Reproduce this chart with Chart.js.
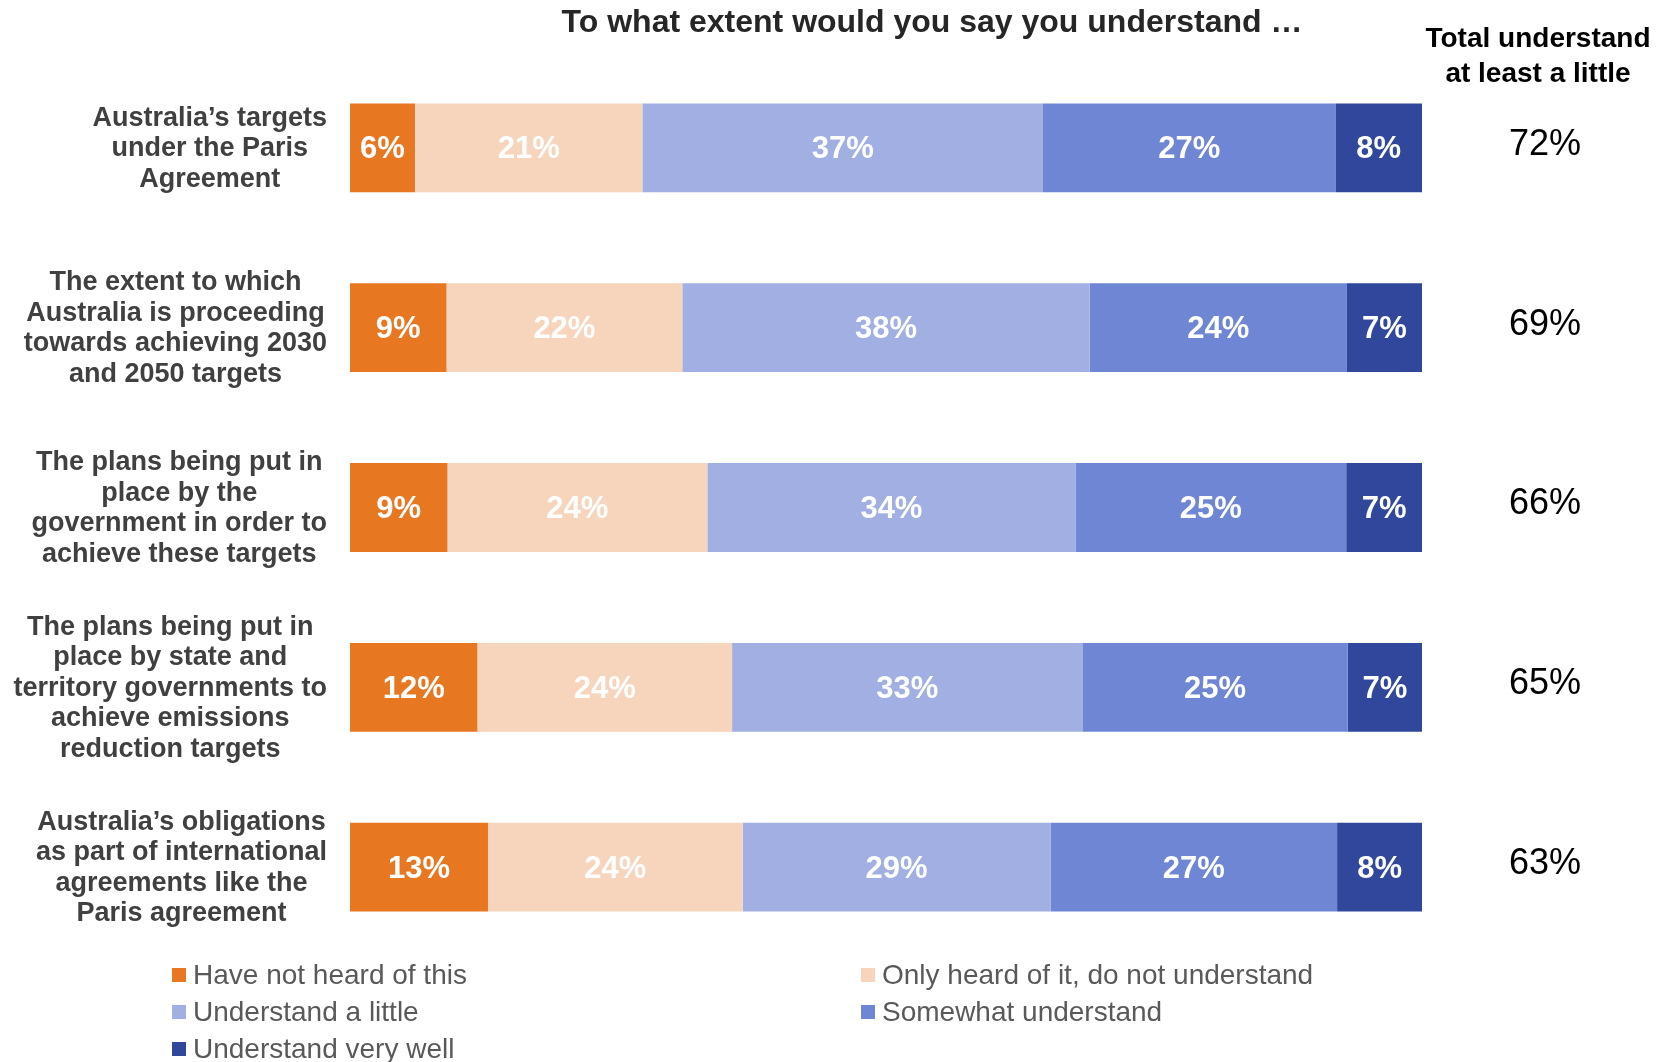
<!DOCTYPE html>
<html>
<head>
<meta charset="utf-8">
<script src="https://cdn.jsdelivr.net/npm/chart.js@4"></script>
<style>
  html, body { margin: 0; padding: 0; background: #fff; }
  #wrap { width: 1657px; height: 1062px; position: relative; }
</style>
</head>
<body>
<div id="wrap"><canvas id="understandChart"></canvas></div>
<script>
const questions = [
    ['Australia\u2019s targets', 'under the Paris', 'Agreement'],
    ['The extent to which', 'Australia is proceeding', 'towards achieving 2030', 'and 2050 targets'],
    ['The plans being put in', 'place by the', 'government in order to', 'achieve these targets'],
    ['The plans being put in', 'place by state and', 'territory governments to', 'achieve emissions', 'reduction targets'],
    ['Australia\u2019s obligations', 'as part of international', 'agreements like the', 'Paris agreement']
];
const responseLabels = [
    'Have not heard of this',
    'Only heard of it, do not understand',
    'Understand a little',
    'Somewhat understand',
    'Understand very well'
];
const haveNotHeard = [6, 9, 9, 12, 13];
const onlyHeard = [21, 22, 24, 24, 24];
const understandLittle = [37, 38, 34, 33, 29];
const somewhatUnderstand = [27, 24, 25, 25, 27];
const understandVeryWell = [8, 7, 7, 7, 8];
const totalAtLeastLittle = [72, 69, 66, 65, 63];
const seriesColors = ['#E87722', '#F6D5BC', '#A1AFE2', '#6F86D4', '#31479C'];

const titleText = 'To what extent would you say you understand \u2026';
const totalHeader = ['Total understand', 'at least a little'];

const FONT = '"Liberation Sans", Arial, sans-serif';

const allSeries = [haveNotHeard, onlyHeard, understandLittle, somewhatUnderstand, understandVeryWell];
// each row is drawn as a 100% stacked bar
const rowSums = questions.map((q, j) => allSeries.reduce((s, arr) => s + arr[j], 0));

const datasets = allSeries.map((arr, i) => ({
    label: responseLabels[i],
    data: arr.map((v, j) => v * 100 / rowSums[j]),
    raw: arr,
    backgroundColor: seriesColors[i],
    borderWidth: 0,
    categoryPercentage: 1,
    barPercentage: 0.494
}));

const headerPlugin = {
    id: 'headerText',
    afterDraw(chart) {
        const c = chart.ctx;
        c.save();
        c.textAlign = 'center';
        c.textBaseline = 'middle';
        c.fillStyle = '#262626';
        c.font = 'bold 32px ' + FONT;
        c.fillText(titleText, 932, 23);
        c.fillStyle = '#000';
        c.font = 'bold 28px ' + FONT;
        c.fillText(totalHeader[0], 1538, 39);
        c.fillText(totalHeader[1], 1538, 74);
        c.restore();
    }
};

const questionLabelsPlugin = {
    id: 'questionLabels',
    afterDraw(chart) {
        const c = chart.ctx;
        const yScale = chart.scales.y;
        const lineH = 30.5;
        const rightEdge = 327;
        c.save();
        c.font = 'bold 27px ' + FONT;
        c.fillStyle = '#404040';
        c.textAlign = 'center';
        c.textBaseline = 'middle';
        questions.forEach((lines, j) => {
            const y = yScale.getPixelForTick(j);
            const blockW = Math.max(...lines.map(l => c.measureText(l).width));
            const cx = rightEdge - blockW / 2;
            const top = y - (lines.length - 1) * lineH / 2;
            lines.forEach((l, k) => c.fillText(l, cx, top + k * lineH + 1));
        });
        c.restore();
    }
};

const segmentLabelsPlugin = {
    id: 'segmentLabels',
    afterDatasetsDraw(chart) {
        const c = chart.ctx;
        c.save();
        c.font = 'bold 31px ' + FONT;
        c.fillStyle = '#fff';
        c.textAlign = 'center';
        c.textBaseline = 'middle';
        chart.data.datasets.forEach((ds, i) => {
            chart.getDatasetMeta(i).data.forEach((bar, j) => {
                const p = bar.getProps(['x', 'y', 'base'], true);
                c.fillText(ds.raw[j] + '%', (p.x + p.base) / 2, p.y + 2);
            });
        });
        c.restore();
    }
};

const totalsPlugin = {
    id: 'totals',
    afterDraw(chart) {
        const c = chart.ctx;
        const yScale = chart.scales.y;
        c.save();
        c.font = '36px ' + FONT;
        c.fillStyle = '#000';
        c.textAlign = 'center';
        c.textBaseline = 'middle';
        totalAtLeastLittle.forEach((v, j) => {
            c.fillText(v + '%', 1545, yScale.getPixelForTick(j) - 3);
        });
        c.restore();
    }
};

const legendPlugin = {
    id: 'gridLegend',
    afterDraw(chart) {
        const c = chart.ctx;
        const colX = [172, 861];
        const rowY = [975, 1012, 1049];
        c.save();
        c.font = '28px ' + FONT;
        c.textAlign = 'left';
        c.textBaseline = 'middle';
        chart.data.datasets.forEach((ds, i) => {
            const x = colX[i % 2];
            const y = rowY[Math.floor(i / 2)];
            c.fillStyle = ds.backgroundColor;
            c.fillRect(x, y - 7, 14, 14);
            c.fillStyle = '#595959';
            c.fillText(ds.label, x + 21, y + 1);
        });
        c.restore();
    }
};

new Chart(document.getElementById('understandChart'), {
    type: 'bar',
    data: { labels: questions.map(q => q.join(' ')), datasets: datasets },
    options: {
        indexAxis: 'y',
        responsive: true,
        maintainAspectRatio: false,
        animation: false,
        layout: { padding: { left: 350, right: 235, top: 58, bottom: 105 } },
        scales: {
            x: { stacked: true, min: 0, max: 100, display: false },
            y: { stacked: true, display: false }
        },
        plugins: {
            legend: { display: false },
            tooltip: { enabled: false },
            title: { display: false }
        }
    },
    plugins: [headerPlugin, questionLabelsPlugin, segmentLabelsPlugin, totalsPlugin, legendPlugin]
});
</script>
</body>
</html>
